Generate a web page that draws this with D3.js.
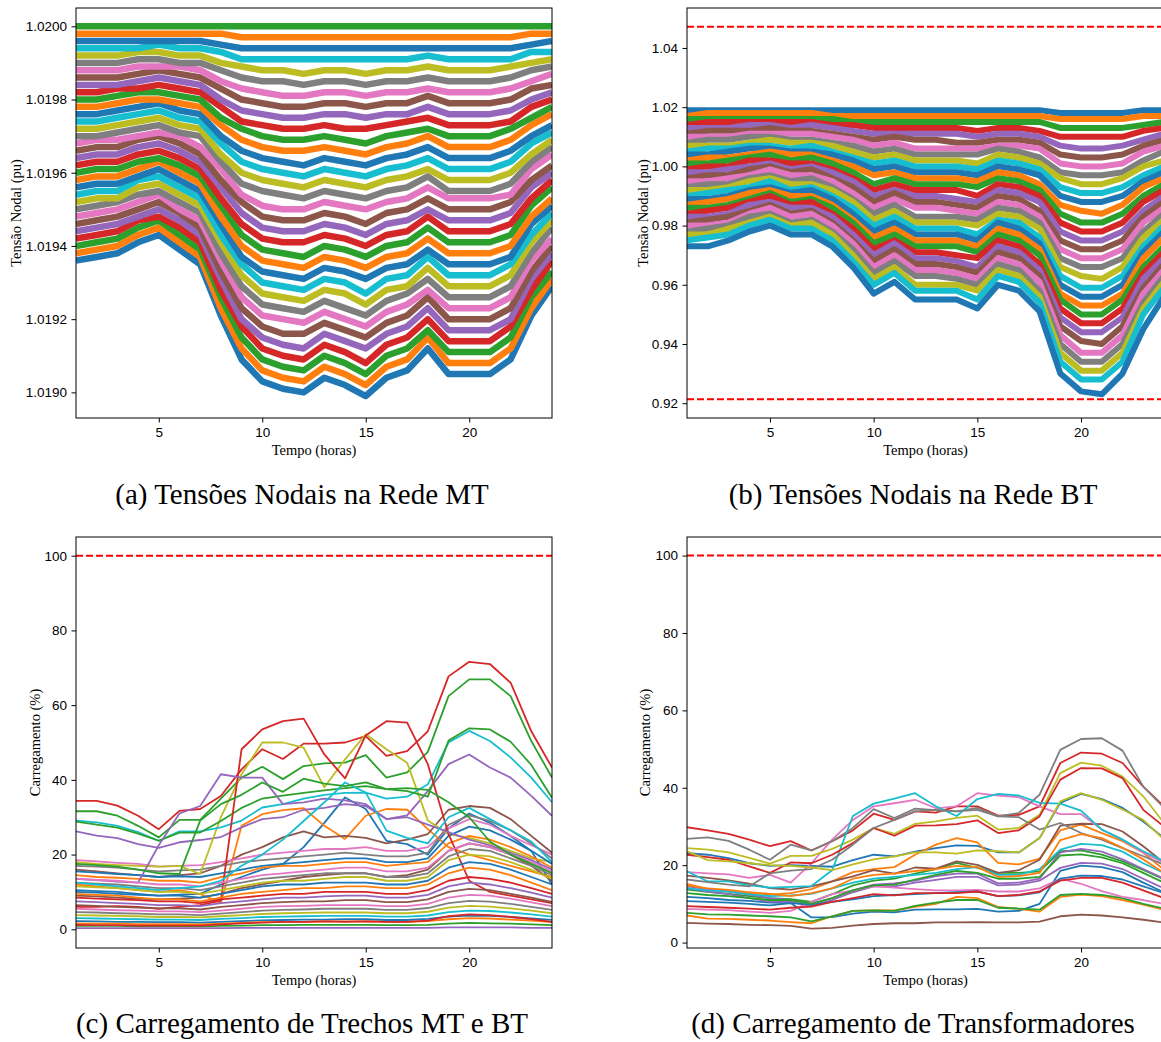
<!DOCTYPE html>
<html>
<head>
<meta charset="utf-8">
<script src="https://cdn.jsdelivr.net/npm/d3@7"></script>
<style>
  body { margin: 0; background: #fff; }
  svg { display: block; font-family: 'Liberation Serif', 'DejaVu Serif', serif; }
</style>
</head>
<body>
<div id="chart"></div>
<script>
const hours = [1, 2, 3, 4, 5, 6, 7, 8, 9, 10, 11, 12, 13, 14, 15, 16, 17, 18, 19, 20, 21, 22, 23, 24];
const ticksHoras = [5, 10, 15, 20];
const ticksMT = [1.0190, 1.0192, 1.0194, 1.0196, 1.0198, 1.0200];
const ticksBT = [0.92, 0.94, 0.96, 0.98, 1.00, 1.02, 1.04];
const ticksCarga = [0, 20, 40, 60, 80, 100];
const limitesBT = [1.0472, 0.9213];
const limiteCarga = [100];

const titulos = ['(a) Tensões Nodais na Rede MT', '(b) Tensões Nodais na Rede BT', '(c) Carregamento de Trechos MT e BT', '(d) Carregamento de Transformadores'];
const rotulosY = ['Tensão Nodal (pu)', 'Tensão Nodal (pu)', 'Carregamento (%)', 'Carregamento (%)'];
const rotuloX = 'Tempo (horas)';

// tensoes nodais MT (pu), uma linha por no
const tensoesMT = [
  [1.01936,1.01937,1.01938,1.01941,1.01943,1.01939,1.01935,1.01921,1.01909,1.01903,1.01901,1.01900,1.01904,1.01902,1.01899,1.01904,1.01906,1.01912,1.01905,1.01905,1.01905,1.01909,1.01921,1.01929],
  [1.01938,1.01939,1.01940,1.01943,1.01945,1.01941,1.01937,1.01923,1.01912,1.01906,1.01904,1.01903,1.01907,1.01905,1.01902,1.01907,1.01909,1.01915,1.01908,1.01908,1.01908,1.01912,1.01923,1.01931],
  [1.01940,1.01941,1.01942,1.01945,1.01947,1.01943,1.01939,1.01926,1.01915,1.01909,1.01907,1.01906,1.01910,1.01908,1.01905,1.01910,1.01912,1.01917,1.01911,1.01911,1.01911,1.01915,1.01926,1.01933],
  [1.01942,1.01943,1.01944,1.01947,1.01948,1.01945,1.01941,1.01928,1.01918,1.01912,1.01910,1.01909,1.01913,1.01911,1.01908,1.01913,1.01915,1.01920,1.01914,1.01914,1.01914,1.01918,1.01928,1.01936],
  [1.01944,1.01945,1.01946,1.01948,1.01950,1.01947,1.01943,1.01931,1.01920,1.01915,1.01913,1.01912,1.01916,1.01914,1.01912,1.01916,1.01918,1.01923,1.01917,1.01917,1.01917,1.01920,1.01931,1.01938],
  [1.01946,1.01947,1.01948,1.01950,1.01952,1.01949,1.01945,1.01933,1.01923,1.01918,1.01916,1.01916,1.01919,1.01917,1.01915,1.01919,1.01921,1.01926,1.01920,1.01920,1.01920,1.01923,1.01933,1.01940],
  [1.01948,1.01949,1.01950,1.01952,1.01954,1.01950,1.01947,1.01936,1.01926,1.01921,1.01920,1.01919,1.01922,1.01920,1.01918,1.01922,1.01924,1.01928,1.01923,1.01923,1.01923,1.01926,1.01936,1.01942],
  [1.01950,1.01951,1.01952,1.01954,1.01955,1.01952,1.01949,1.01938,1.01929,1.01924,1.01923,1.01922,1.01925,1.01923,1.01921,1.01925,1.01927,1.01931,1.01926,1.01926,1.01926,1.01929,1.01938,1.01945],
  [1.01952,1.01953,1.01953,1.01956,1.01957,1.01954,1.01951,1.01941,1.01932,1.01927,1.01926,1.01925,1.01928,1.01927,1.01924,1.01928,1.01929,1.01934,1.01929,1.01929,1.01929,1.01932,1.01941,1.01947],
  [1.01954,1.01955,1.01955,1.01958,1.01959,1.01956,1.01953,1.01943,1.01935,1.01930,1.01929,1.01928,1.01931,1.01930,1.01927,1.01931,1.01932,1.01937,1.01932,1.01932,1.01932,1.01935,1.01943,1.01949],
  [1.01956,1.01957,1.01957,1.01959,1.01961,1.01958,1.01955,1.01946,1.01937,1.01933,1.01932,1.01931,1.01934,1.01933,1.01931,1.01934,1.01935,1.01939,1.01935,1.01935,1.01935,1.01937,1.01946,1.01951],
  [1.01958,1.01959,1.01959,1.01961,1.01963,1.01960,1.01957,1.01948,1.01940,1.01936,1.01935,1.01934,1.01937,1.01936,1.01934,1.01937,1.01938,1.01942,1.01938,1.01938,1.01938,1.01940,1.01948,1.01953],
  [1.01960,1.01961,1.01961,1.01963,1.01964,1.01962,1.01959,1.01951,1.01943,1.01939,1.01938,1.01937,1.01940,1.01939,1.01937,1.01940,1.01941,1.01945,1.01941,1.01941,1.01941,1.01943,1.01951,1.01956],
  [1.01962,1.01963,1.01963,1.01965,1.01966,1.01964,1.01961,1.01953,1.01946,1.01942,1.01941,1.01941,1.01943,1.01942,1.01940,1.01943,1.01944,1.01948,1.01944,1.01944,1.01944,1.01946,1.01953,1.01958],
  [1.01964,1.01965,1.01965,1.01967,1.01968,1.01966,1.01963,1.01956,1.01949,1.01945,1.01944,1.01944,1.01946,1.01945,1.01943,1.01946,1.01947,1.01950,1.01947,1.01947,1.01947,1.01949,1.01956,1.01960],
  [1.01966,1.01967,1.01967,1.01969,1.01970,1.01968,1.01965,1.01958,1.01952,1.01948,1.01947,1.01947,1.01949,1.01948,1.01946,1.01949,1.01950,1.01953,1.01950,1.01950,1.01950,1.01952,1.01958,1.01962],
  [1.01968,1.01969,1.01969,1.01970,1.01971,1.01970,1.01967,1.01961,1.01954,1.01951,1.01950,1.01950,1.01952,1.01951,1.01950,1.01952,1.01953,1.01956,1.01953,1.01953,1.01953,1.01954,1.01961,1.01965],
  [1.01970,1.01970,1.01971,1.01972,1.01973,1.01971,1.01970,1.01963,1.01957,1.01955,1.01954,1.01953,1.01955,1.01954,1.01953,1.01955,1.01956,1.01959,1.01955,1.01955,1.01955,1.01957,1.01963,1.01967],
  [1.01972,1.01972,1.01973,1.01974,1.01975,1.01973,1.01972,1.01965,1.01960,1.01958,1.01957,1.01956,1.01958,1.01957,1.01956,1.01958,1.01959,1.01961,1.01958,1.01958,1.01958,1.01960,1.01965,1.01969],
  [1.01974,1.01974,1.01975,1.01976,1.01977,1.01975,1.01974,1.01968,1.01963,1.01961,1.01960,1.01959,1.01961,1.01960,1.01959,1.01961,1.01962,1.01964,1.01961,1.01961,1.01961,1.01963,1.01968,1.01971],
  [1.01976,1.01976,1.01977,1.01978,1.01979,1.01977,1.01976,1.01970,1.01966,1.01964,1.01963,1.01962,1.01964,1.01963,1.01962,1.01964,1.01965,1.01967,1.01964,1.01964,1.01964,1.01966,1.01970,1.01973],
  [1.01978,1.01978,1.01979,1.01980,1.01980,1.01979,1.01978,1.01973,1.01969,1.01967,1.01966,1.01966,1.01967,1.01966,1.01965,1.01967,1.01968,1.01970,1.01967,1.01967,1.01967,1.01969,1.01973,1.01976],
  [1.01980,1.01980,1.01981,1.01982,1.01982,1.01981,1.01980,1.01975,1.01972,1.01970,1.01969,1.01969,1.01970,1.01969,1.01968,1.01970,1.01971,1.01972,1.01970,1.01970,1.01970,1.01972,1.01975,1.01978],
  [1.01982,1.01982,1.01983,1.01983,1.01984,1.01983,1.01982,1.01978,1.01974,1.01973,1.01972,1.01972,1.01973,1.01972,1.01972,1.01973,1.01974,1.01975,1.01973,1.01973,1.01973,1.01974,1.01978,1.01980],
  [1.01984,1.01984,1.01984,1.01985,1.01986,1.01985,1.01984,1.01980,1.01977,1.01976,1.01975,1.01975,1.01976,1.01976,1.01975,1.01976,1.01976,1.01978,1.01976,1.01976,1.01976,1.01977,1.01980,1.01982],
  [1.01986,1.01986,1.01986,1.01987,1.01988,1.01987,1.01986,1.01983,1.01980,1.01979,1.01978,1.01978,1.01979,1.01979,1.01978,1.01979,1.01979,1.01981,1.01979,1.01979,1.01979,1.01980,1.01983,1.01984],
  [1.01988,1.01988,1.01988,1.01989,1.01989,1.01989,1.01988,1.01985,1.01983,1.01982,1.01981,1.01981,1.01982,1.01982,1.01981,1.01982,1.01982,1.01983,1.01982,1.01982,1.01982,1.01983,1.01985,1.01987],
  [1.01990,1.01990,1.01990,1.01991,1.01991,1.01990,1.01990,1.01988,1.01986,1.01985,1.01985,1.01984,1.01985,1.01985,1.01984,1.01985,1.01985,1.01986,1.01985,1.01985,1.01985,1.01986,1.01988,1.01989],
  [1.01992,1.01992,1.01992,1.01993,1.01993,1.01992,1.01992,1.01990,1.01989,1.01988,1.01988,1.01987,1.01988,1.01988,1.01987,1.01988,1.01988,1.01989,1.01988,1.01988,1.01988,1.01989,1.01990,1.01991],
  [1.01994,1.01994,1.01994,1.01994,1.01995,1.01994,1.01994,1.01993,1.01991,1.01991,1.01991,1.01991,1.01991,1.01991,1.01991,1.01991,1.01991,1.01992,1.01991,1.01991,1.01991,1.01991,1.01993,1.01993],
  [1.01996,1.01996,1.01996,1.01996,1.01996,1.01996,1.01996,1.01995,1.01994,1.01994,1.01994,1.01994,1.01994,1.01994,1.01994,1.01994,1.01994,1.01994,1.01994,1.01994,1.01994,1.01994,1.01995,1.01996],
  [1.01998,1.01998,1.01998,1.01998,1.01998,1.01998,1.01998,1.01998,1.01997,1.01997,1.01997,1.01997,1.01997,1.01997,1.01997,1.01997,1.01997,1.01997,1.01997,1.01997,1.01997,1.01997,1.01998,1.01998],
  [1.02,1.02,1.02,1.02,1.02,1.02,1.02,1.02,1.02,1.02,1.02,1.02,1.02,1.02,1.02,1.02,1.02,1.02,1.02,1.02,1.02,1.02,1.02,1.02]
];

// tensoes nodais BT (pu)
const tensoesBT = [
  [1.019,1.019,1.019,1.019,1.019,1.019,1.019,1.019,1.019,1.019,1.019,1.019,1.019,1.019,1.019,1.019,1.019,1.019,1.018,1.018,1.018,1.018,1.019,1.019],
  [1.017,1.018,1.018,1.018,1.018,1.018,1.018,1.017,1.017,1.017,1.017,1.017,1.017,1.017,1.017,1.017,1.017,1.017,1.016,1.016,1.016,1.016,1.017,1.017],
  [1.016,1.016,1.016,1.016,1.016,1.016,1.016,1.016,1.015,1.015,1.015,1.015,1.015,1.015,1.015,1.015,1.015,1.015,1.013,1.013,1.013,1.013,1.014,1.015],
  [1.014,1.015,1.015,1.015,1.015,1.015,1.015,1.014,1.014,1.013,1.013,1.013,1.013,1.013,1.012,1.013,1.013,1.012,1.010,1.010,1.010,1.010,1.012,1.013],
  [1.013,1.013,1.013,1.014,1.014,1.013,1.014,1.013,1.012,1.011,1.011,1.011,1.011,1.011,1.010,1.011,1.011,1.010,1.007,1.006,1.006,1.007,1.009,1.011],
  [1.011,1.012,1.012,1.012,1.013,1.012,1.012,1.011,1.010,1.009,1.010,1.009,1.009,1.008,1.008,1.009,1.009,1.008,1.004,1.003,1.003,1.004,1.007,1.009],
  [1.010,1.010,1.010,1.011,1.011,1.011,1.011,1.010,1.009,1.007,1.008,1.006,1.006,1.006,1.006,1.007,1.007,1.006,1.001,1.000,1.000,1.001,1.005,1.007],
  [1.008,1.009,1.009,1.010,1.010,1.009,1.009,1.008,1.007,1.005,1.006,1.004,1.004,1.004,1.004,1.006,1.005,1.003,0.998,0.997,0.997,0.998,1.002,1.005],
  [1.007,1.007,1.007,1.008,1.009,1.008,1.008,1.007,1.005,1.003,1.004,1.002,1.002,1.002,1.001,1.004,1.003,1.001,0.996,0.994,0.994,0.996,1.000,1.002],
  [1.005,1.006,1.006,1.007,1.007,1.006,1.007,1.005,1.003,1.001,1.002,1.000,1.000,1.000,0.999,1.002,1.001,0.999,0.993,0.991,0.991,0.993,0.997,1.000],
  [1.004,1.004,1.005,1.006,1.006,1.005,1.005,1.004,1.002,0.999,1.000,0.998,0.998,0.998,0.997,1.000,0.999,0.997,0.990,0.988,0.988,0.990,0.995,0.998],
  [1.002,1.003,1.003,1.004,1.005,1.004,1.004,1.002,1.000,0.997,0.998,0.996,0.996,0.996,0.995,0.998,0.997,0.994,0.987,0.985,0.984,0.987,0.993,0.996],
  [1.001,1.001,1.002,1.003,1.004,1.002,1.003,1.001,0.998,0.994,0.996,0.994,0.994,0.994,0.993,0.996,0.995,0.992,0.984,0.981,0.981,0.984,0.990,0.994],
  [0.999,1.000,1.000,1.002,1.002,1.001,1.001,0.999,0.996,0.992,0.994,0.992,0.992,0.992,0.990,0.994,0.993,0.990,0.981,0.978,0.978,0.981,0.988,0.992],
  [0.998,0.998,0.999,1.000,1.001,0.999,1.000,0.998,0.995,0.990,0.992,0.990,0.990,0.989,0.988,0.992,0.991,0.988,0.978,0.975,0.975,0.978,0.985,0.990],
  [0.996,0.997,0.997,0.999,1.000,0.998,0.999,0.996,0.993,0.988,0.991,0.988,0.988,0.987,0.986,0.990,0.989,0.985,0.975,0.972,0.972,0.975,0.983,0.988],
  [0.995,0.995,0.996,0.997,0.999,0.997,0.997,0.995,0.991,0.986,0.989,0.986,0.986,0.985,0.984,0.988,0.987,0.983,0.972,0.969,0.969,0.972,0.981,0.986],
  [0.993,0.994,0.994,0.996,0.997,0.995,0.996,0.993,0.989,0.984,0.987,0.983,0.983,0.983,0.982,0.986,0.985,0.981,0.969,0.966,0.966,0.969,0.978,0.984],
  [0.992,0.992,0.993,0.995,0.996,0.994,0.994,0.992,0.988,0.982,0.985,0.981,0.981,0.981,0.980,0.984,0.983,0.979,0.966,0.963,0.962,0.966,0.976,0.982],
  [0.990,0.991,0.992,0.993,0.995,0.992,0.993,0.990,0.986,0.980,0.983,0.979,0.979,0.979,0.977,0.982,0.981,0.976,0.963,0.959,0.959,0.963,0.973,0.980],
  [0.989,0.989,0.990,0.992,0.993,0.991,0.992,0.989,0.984,0.978,0.981,0.977,0.977,0.977,0.975,0.981,0.979,0.974,0.960,0.956,0.956,0.960,0.971,0.978],
  [0.987,0.988,0.989,0.991,0.992,0.990,0.990,0.987,0.982,0.976,0.979,0.975,0.975,0.975,0.973,0.979,0.977,0.972,0.957,0.953,0.953,0.957,0.969,0.976],
  [0.986,0.986,0.987,0.989,0.991,0.988,0.989,0.986,0.981,0.974,0.977,0.973,0.973,0.973,0.971,0.977,0.975,0.970,0.955,0.950,0.950,0.955,0.966,0.973],
  [0.984,0.985,0.986,0.988,0.990,0.987,0.988,0.984,0.979,0.972,0.975,0.971,0.971,0.970,0.969,0.975,0.973,0.967,0.952,0.947,0.947,0.952,0.964,0.971],
  [0.983,0.983,0.984,0.987,0.988,0.986,0.986,0.983,0.977,0.970,0.974,0.969,0.969,0.968,0.966,0.973,0.971,0.965,0.949,0.944,0.944,0.949,0.962,0.969],
  [0.981,0.982,0.983,0.985,0.987,0.984,0.985,0.981,0.975,0.968,0.972,0.967,0.967,0.966,0.964,0.971,0.969,0.963,0.946,0.941,0.940,0.946,0.959,0.967],
  [0.980,0.980,0.981,0.984,0.986,0.983,0.984,0.980,0.974,0.966,0.970,0.965,0.965,0.964,0.962,0.969,0.967,0.961,0.943,0.937,0.937,0.943,0.957,0.965],
  [0.978,0.979,0.980,0.983,0.984,0.981,0.982,0.978,0.972,0.964,0.968,0.963,0.963,0.962,0.960,0.967,0.965,0.958,0.940,0.934,0.934,0.940,0.954,0.963],
  [0.977,0.977,0.979,0.981,0.983,0.980,0.981,0.977,0.970,0.962,0.966,0.960,0.960,0.960,0.958,0.965,0.963,0.956,0.937,0.931,0.931,0.937,0.952,0.961],
  [0.975,0.976,0.977,0.980,0.982,0.979,0.979,0.975,0.968,0.960,0.964,0.958,0.958,0.958,0.955,0.963,0.961,0.954,0.934,0.928,0.928,0.934,0.950,0.959],
  [0.973,0.973,0.975,0.978,0.980,0.977,0.977,0.973,0.966,0.957,0.961,0.955,0.955,0.955,0.952,0.960,0.958,0.951,0.930,0.924,0.923,0.930,0.945,0.956]
];

// carregamento de trechos (%)
const carregamentoTrechos = [
  [10.0,9.8,9.5,9.2,9.0,9.3,9.5,12.0,14.0,16.0,17.5,22.0,28.5,35.3,32.2,23.7,22.8,20.0,27.0,31.0,28.5,25.0,21.0,12.0],
  [12.0,11.5,11.0,10.5,10.0,10.5,9.5,7.0,27.7,30.8,31.9,32.4,27.7,24.2,30.4,32.2,32.0,26.8,22.0,20.0,18.5,17.0,15.5,14.0],
  [31.6,31.6,30.4,27.7,24.6,29.3,29.3,35.0,40.6,43.5,40.2,43.7,44.4,44.6,46.6,40.6,42.0,47.5,62.4,66.9,66.9,62.4,50.4,40.6],
  [34.4,34.4,33.1,30.4,26.8,31.7,32.2,35.7,42.8,48.2,45.6,49.7,49.7,50.0,51.7,46.4,47.7,53.0,67.7,71.6,71.0,66.0,53.0,43.3],
  [26.2,25.1,24.4,22.8,21.8,23.3,23.9,24.7,27.3,29.5,30.0,32.0,32.5,33.5,33.0,29.5,30.5,37.0,44.2,46.8,43.3,40.6,35.7,30.4],
  [16.0,15.5,15.0,14.5,14.0,14.5,15.0,17.0,20.0,22.0,24.6,26.2,24.6,25.0,24.5,23.0,24.0,25.5,32.0,33.0,32.5,29.5,25.0,20.5],
  [18.5,18.2,17.8,17.5,16.8,17.0,17.2,18.0,19.0,20.0,20.5,21.0,21.5,21.5,22.0,21.0,21.0,22.0,27.0,29.5,28.0,25.0,22.5,20.0],
  [17.0,16.8,16.5,16.0,15.5,15.8,16.0,17.0,18.0,18.5,19.0,19.5,20.0,20.5,20.0,19.5,19.5,20.5,28.0,30.5,29.0,26.5,23.0,19.0],
  [18.0,17.5,17.2,17.0,16.8,17.0,14.8,30.0,41.5,50.0,50.0,48.6,38.0,45.5,52.2,48.2,44.6,29.1,25.5,24.5,23.0,21.0,19.0,18.0],
  [29.1,28.6,27.7,26.0,23.7,26.2,26.2,27.3,29.1,32.6,33.5,35.0,36.0,36.5,36.6,35.0,35.5,38.8,50.0,53.1,50.4,46.0,40.6,34.0],
  [15.5,15.2,14.8,14.5,14.0,14.2,14.0,15.0,16.0,17.0,17.5,18.0,18.5,19.0,19.0,18.0,18.0,19.0,25.0,27.5,26.5,24.0,21.0,17.5],
  [14.5,14.0,13.8,13.5,13.0,13.0,12.5,14.0,15.0,16.5,17.0,17.0,17.5,18.0,18.0,17.0,17.5,18.0,23.0,25.0,24.0,22.0,19.5,16.5],
  [28.8,28.0,27.2,25.6,23.7,25.9,25.9,29.0,32.5,35.0,35.8,36.5,37.2,37.8,38.3,37.5,37.0,35.5,50.5,53.8,53.5,50.2,44.0,35.2],
  [6.0,6.0,6.2,6.0,5.5,6.0,6.5,7.7,48.2,53.5,55.7,56.4,46.8,40.4,51.9,55.7,55.3,44.2,25.5,13.0,10.0,9.0,8.0,7.0],
  [13.5,13.2,12.8,12.5,22.5,31.0,33.0,41.5,40.6,40.6,33.5,34.0,35.0,34.5,33.5,29.5,30.0,28.0,26.0,24.0,22.5,20.5,18.5,16.0],
  [9.0,8.8,8.5,8.2,8.0,8.2,8.5,9.5,11.0,12.0,13.0,14.0,14.5,15.0,15.0,14.0,14.5,16.0,21.0,23.0,22.0,20.0,17.0,13.0],
  [13.5,13.2,13.0,12.5,12.0,12.0,11.5,12.5,13.5,14.5,15.0,15.5,16.0,16.5,16.5,15.5,15.5,16.5,21.0,23.0,22.0,20.0,18.0,15.5],
  [12.5,12.2,12.0,11.5,11.0,11.0,10.5,11.5,12.5,13.5,14.0,14.5,15.0,15.0,15.0,14.0,14.0,15.0,19.5,21.5,21.0,19.0,17.0,14.5],
  [11.5,11.2,11.0,10.5,10.0,10.0,9.5,10.5,11.5,12.5,13.0,13.0,13.5,14.0,14.0,13.0,13.0,14.0,18.5,20.0,19.5,18.0,16.0,13.5],
  [12.5,12.0,11.5,11.0,10.5,11.0,11.5,13.0,17.0,20.0,24.0,29.0,34.0,39.3,36.6,26.4,24.5,23.0,30.0,32.5,29.5,26.5,23.5,18.0],
  [10.5,10.2,10.0,9.5,9.0,9.0,8.5,9.5,10.5,11.5,12.0,12.0,12.5,12.5,12.5,12.0,12.0,13.0,16.5,18.0,17.5,16.0,14.0,12.0],
  [9.5,9.2,9.0,8.5,8.0,8.0,7.5,8.5,9.5,10.0,10.5,11.0,11.0,11.5,11.5,11.0,11.0,12.0,15.0,16.5,16.0,14.5,12.5,10.5],
  [17.5,17.2,16.8,16.0,15.0,14.8,29.1,33.5,36.0,39.3,36.8,40.3,39.0,38.3,39.3,37.5,37.8,37.3,34.0,30.0,23.5,20.0,17.5,15.0],
  [8.5,8.2,8.0,7.8,7.5,7.5,7.0,8.0,8.5,9.0,9.5,9.5,10.0,10.0,10.0,9.5,9.5,10.5,13.0,14.0,13.5,12.5,11.0,9.5],
  [7.5,7.3,7.0,6.8,6.5,6.5,6.2,7.0,7.5,8.0,8.5,8.5,8.8,9.0,9.0,8.5,8.5,9.2,11.5,12.5,12.0,11.0,9.8,8.5],
  [6.5,6.3,6.0,5.8,5.6,5.6,5.3,6.0,6.5,7.0,7.3,7.5,7.5,7.8,7.8,7.3,7.3,8.0,10.0,10.8,10.5,9.5,8.5,7.3],
  [5.5,5.3,5.1,5.0,4.8,4.8,4.6,5.0,5.5,6.0,6.2,6.3,6.5,6.5,6.5,6.2,6.2,6.8,8.5,9.2,9.0,8.2,7.2,6.2],
  [4.6,4.5,4.3,4.2,4.0,4.0,3.8,4.2,4.6,5.0,5.2,5.3,5.5,5.5,5.5,5.2,5.2,5.7,7.0,7.6,7.4,6.8,6.0,5.2],
  [3.8,3.7,3.6,3.5,3.3,3.3,3.2,3.5,3.8,4.1,4.3,4.4,4.5,4.5,4.5,4.3,4.3,4.7,5.8,6.3,6.1,5.6,5.0,4.3],
  [3.0,2.9,2.8,2.7,2.6,2.6,2.5,2.8,3.0,3.3,3.4,3.5,3.6,3.6,3.6,3.4,3.4,3.7,4.6,5.0,4.9,4.5,4.0,3.4],
  [2.2,2.1,2.0,2.0,1.9,1.9,1.8,2.0,2.2,2.4,2.5,2.6,2.6,2.7,2.7,2.5,2.5,2.8,3.4,3.7,3.6,3.3,2.9,2.5],
  [1.6,1.5,1.5,1.4,1.4,1.4,1.3,1.5,1.7,1.9,2.0,2.0,2.1,2.1,2.1,2.0,2.0,2.2,2.7,3.0,2.9,2.6,2.3,1.9],
  [0.9,0.9,0.9,0.8,0.8,0.8,0.8,0.9,1.0,1.1,1.1,1.2,1.2,1.2,1.2,1.1,1.1,1.2,1.5,1.7,1.6,1.5,1.3,1.1],
  [1.2,1.1,1.1,1.0,1.0,1.0,1.0,1.3,1.6,1.8,2.0,2.0,2.1,2.0,2.1,2.0,2.0,2.3,3.5,4.0,3.8,3.3,2.7,2.0],
  [0.3,0.3,0.3,0.3,0.3,0.3,0.3,0.3,0.4,0.4,0.4,0.4,0.4,0.4,0.4,0.4,0.4,0.4,0.5,0.5,0.5,0.5,0.4,0.4]
];

// carregamento de transformadores (%)
const carregamentoTrafos = [
  [23.1,22.7,21.8,20.5,19.8,20.0,19.8,19.6,21.3,22.7,22.3,23.5,24.4,25.1,25.0,23.3,23.3,27.0,36.1,38.4,37.1,34.8,31.3,27.0],
  [15.2,13.8,13.5,12.8,12.4,12.8,13.8,15.8,18.2,19.0,19.5,22.7,25.3,27.0,25.9,20.6,20.2,21.7,29.0,30.5,28.3,26.2,23.2,18.8],
  [13.7,13.1,12.6,12.0,11.5,11.2,10.5,12.5,14.8,16.0,16.5,17.8,19.0,20.6,19.3,18.0,18.0,18.4,23.6,23.8,22.7,21.0,18.8,16.3],
  [29.8,29.0,28.1,26.6,24.9,26.2,23.8,26.2,29.0,33.3,31.7,33.9,33.6,35.2,35.2,32.8,33.0,35.2,46.4,49.1,48.8,46.4,40.3,35.2],
  [14.5,13.8,13.2,12.4,11.5,11.0,10.0,11.5,13.5,15.0,15.3,16.0,17.2,17.8,17.8,15.3,15.5,16.5,23.3,24.2,23.5,21.5,19.0,16.5],
  [17.3,16.7,16.1,15.2,14.1,13.7,14.5,15.8,17.1,18.7,17.8,19.4,19.1,21.0,20.1,18.0,18.7,21.4,30.2,30.7,30.6,28.7,24.9,20.6],
  [18.2,17.9,17.6,16.7,17.5,15.5,20.5,26.6,31.7,35.2,36.0,36.9,34.7,35.2,38.6,38.0,37.6,35.2,33.2,33.2,29.2,26.6,23.2,20.6],
  [26.8,27.2,26.3,24.0,21.4,25.3,23.8,26.2,29.6,34.5,32.2,34.6,34.2,33.9,34.8,32.6,33.5,38.2,49.8,52.6,52.8,49.6,40.3,34.8],
  [24.4,24.0,23.3,21.9,20.4,22.4,22.4,24.2,26.6,29.6,28.1,30.7,31.3,32.2,32.8,29.2,29.6,33.0,43.8,46.5,45.7,42.9,37.8,30.9],
  [18.4,15.8,15.8,14.8,14.2,14.4,14.6,18.7,32.7,35.9,37.2,38.6,35.2,32.7,37.1,38.4,38.0,36.1,35.9,34.1,29.2,26.6,23.6,21.0],
  [11.8,11.5,11.0,10.8,10.3,10.2,6.5,6.6,7.5,8.0,7.8,8.5,8.6,8.6,8.7,8.0,8.2,10.0,18.5,19.9,19.5,18.2,15.5,13.0],
  [7.0,6.2,6.1,5.9,5.7,5.3,5.0,6.8,8.2,8.3,8.3,9.2,10.0,11.8,11.5,9.2,8.7,8.0,11.8,12.4,12.0,11.0,9.8,8.5],
  [7.7,7.3,7.2,7.0,6.8,6.5,5.5,6.8,8.2,8.3,8.2,9.5,10.3,11.0,11.0,9.0,8.8,8.5,12.3,12.6,12.3,11.5,10.0,8.8],
  [22.7,22.1,21.4,19.7,18.0,20.7,20.5,22.7,25.7,29.6,27.6,30.2,30.3,30.6,31.6,28.3,29.0,32.6,42.1,45.1,45.0,42.5,34.3,30.0],
  [14.1,13.2,12.5,11.5,10.6,10.5,9.5,11.0,13.0,14.5,14.5,15.5,16.2,17.0,17.0,14.8,15.0,16.0,19.3,20.6,20.4,19.0,16.5,14.0],
  [5.1,4.9,4.8,4.6,4.5,4.3,3.6,3.8,4.4,4.8,5.0,5.0,5.2,5.2,5.3,5.2,5.2,5.4,6.8,7.2,7.0,6.5,5.9,5.2],
  [8.7,8.5,8.4,8.0,7.7,8.2,10.5,12.5,13.5,14.5,14.2,13.8,13.5,13.5,13.6,13.2,13.2,14.0,16.5,15.2,13.3,11.8,11.0,10.0],
  [16.3,15.6,15.0,14.5,17.9,18.6,19.0,21.4,25.3,29.6,31.7,33.9,34.3,33.9,34.3,32.6,32.4,29.2,30.9,28.3,26.6,24.4,22.3,20.1],
  [23.6,21.3,21.0,20.5,20.0,19.8,19.4,18.7,20.2,21.5,22.3,23.3,23.3,23.0,23.8,23.6,23.3,27.0,36.5,38.6,36.9,34.4,31.7,26.6],
  [14.0,13.5,13.2,12.5,12.0,12.2,12.6,14.0,15.5,16.5,17.0,17.5,18.0,19.0,19.5,17.5,17.5,19.0,24.0,25.5,25.2,23.5,20.5,18.0],
  [10.7,10.5,10.3,10.0,9.6,10.2,9.8,10.5,11.2,12.0,12.3,12.5,12.8,13.0,13.2,12.0,12.2,13.0,16.5,17.3,17.2,16.3,14.5,12.8],
  [14.8,14.0,13.6,13.0,12.6,12.0,12.8,14.0,16.5,17.5,17.8,18.5,19.0,19.8,19.5,17.0,17.2,18.0,26.5,28.0,27.0,24.5,21.5,18.0],
  [12.8,12.3,12.0,11.5,11.0,11.0,10.0,11.5,13.5,14.8,15.0,16.3,17.5,18.5,18.0,16.5,16.5,17.0,22.5,22.8,22.0,20.5,18.0,15.5],
  [9.4,9.2,9.0,8.8,8.5,9.0,9.3,10.5,11.5,12.5,12.2,12.8,12.8,12.8,13.2,12.0,12.3,13.2,16.0,16.7,16.7,15.5,13.5,11.5]
];

const Chart = {
  init() {
    this.setVar();
    this.create();
    this.panels.forEach((p, i) => this.drawPanel(p, i));
  },

  setVar() {
    this.colors = d3.schemeCategory10;
    this.red = '#ff0000';
    this.width = 1161;
    this.height = 1042;

    this.panels = [
      { left: 76, top: 8, w: 476, h: 410, data: tensoesMT, domain: [1.01893, 1.02005], ticks: ticksMT, fmt: d3.format('.4f'), limits: [], lw: 6.5, labelX: 21, capX: 302, capY: 504 },
      { left: 687, top: 8, w: 477, h: 410, data: tensoesBT, domain: [0.915, 1.0535], ticks: ticksBT, fmt: d3.format('.2f'), limits: limitesBT, lw: 6, labelX: 648, capX: 913, capY: 504 },
      { left: 76, top: 537, w: 476, h: 411, data: carregamentoTrechos, domain: [-5, 105], ticks: ticksCarga, fmt: d3.format('d'), limits: limiteCarga, lw: 1.8, labelX: 40, capX: 302, capY: 1033 },
      { left: 687, top: 537, w: 477, h: 411, data: carregamentoTrafos, domain: [-1.4, 104.8], ticks: ticksCarga, fmt: d3.format('d'), limits: limiteCarga, lw: 1.8, labelX: 650, capX: 913, capY: 1033 },
    ];
  },

  create() {
    this.svg = d3.select('#chart').append('svg')
      .attr('width', this.width)
      .attr('height', this.height);

    this.svg.append('rect')
      .attr('width', this.width)
      .attr('height', this.height)
      .attr('fill', '#fff');
  },

  drawPanel(p, i) {
    const x = d3.scaleLinear().domain([1, 24]).range([0, p.w]);
    const y = d3.scaleLinear().domain(p.domain).range([p.h, 0]);

    const g = this.svg.append('g')
      .attr('transform', `translate(${p.left} ${p.top})`);

    g.append('clipPath').attr('id', `clip${i}`)
      .append('rect')
      .attr('width', p.w)
      .attr('height', p.h);

    const line = d3.line()
      .x((d, j) => x(hours[j]))
      .y((d) => y(d));

    const plot = g.append('g').attr('clip-path', `url(#clip${i})`);

    plot.selectAll('.serie')
      .data(p.data)
      .join('path')
      .attr('class', 'serie')
      .attr('fill', 'none')
      .attr('stroke', (d, j) => this.colors[j % 10])
      .attr('stroke-width', p.lw)
      .attr('stroke-linejoin', 'round')
      .attr('d', line);

    plot.selectAll('.limite')
      .data(p.limits)
      .join('line')
      .attr('class', 'limite')
      .attr('x1', 0)
      .attr('x2', p.w)
      .attr('y1', (d) => y(d))
      .attr('y2', (d) => y(d))
      .attr('stroke', this.red)
      .attr('stroke-width', 2)
      .attr('stroke-dasharray', '7,3');

    const ax = g.append('g')
      .attr('transform', `translate(0, ${p.h})`)
      .call(d3.axisBottom(x).tickValues(ticksHoras).tickSize(4.5).tickPadding(5));

    const ay = g.append('g')
      .call(d3.axisLeft(y).tickValues(p.ticks).tickFormat(p.fmt).tickSize(4.5).tickPadding(4.5));

    [ax, ay].forEach((a) => {
      a.select('.domain').remove();
      a.selectAll('text')
        .attr('font-family', null)
        .attr('font-size', 13.5)
        .attr('fill', '#000');
      a.selectAll('line').attr('stroke', '#000');
    });

    g.append('rect')
      .attr('width', p.w)
      .attr('height', p.h)
      .attr('fill', 'none')
      .attr('stroke', '#000')
      .attr('stroke-width', 1);

    g.append('text')
      .attr('x', p.w / 2)
      .attr('y', p.h + 37)
      .attr('text-anchor', 'middle')
      .attr('font-size', 14.5)
      .text(rotuloX);

    this.svg.append('text')
      .attr('transform', `translate(${p.labelX} ${p.top + p.h / 2}) rotate(-90)`)
      .attr('text-anchor', 'middle')
      .attr('font-size', 14.5)
      .text(rotulosY[i]);

    this.svg.append('text')
      .attr('x', p.capX)
      .attr('y', p.capY)
      .attr('text-anchor', 'middle')
      .attr('font-size', 29)
      .text(titulos[i]);
  },
};

Chart.init();
</script>
</body>
</html>
